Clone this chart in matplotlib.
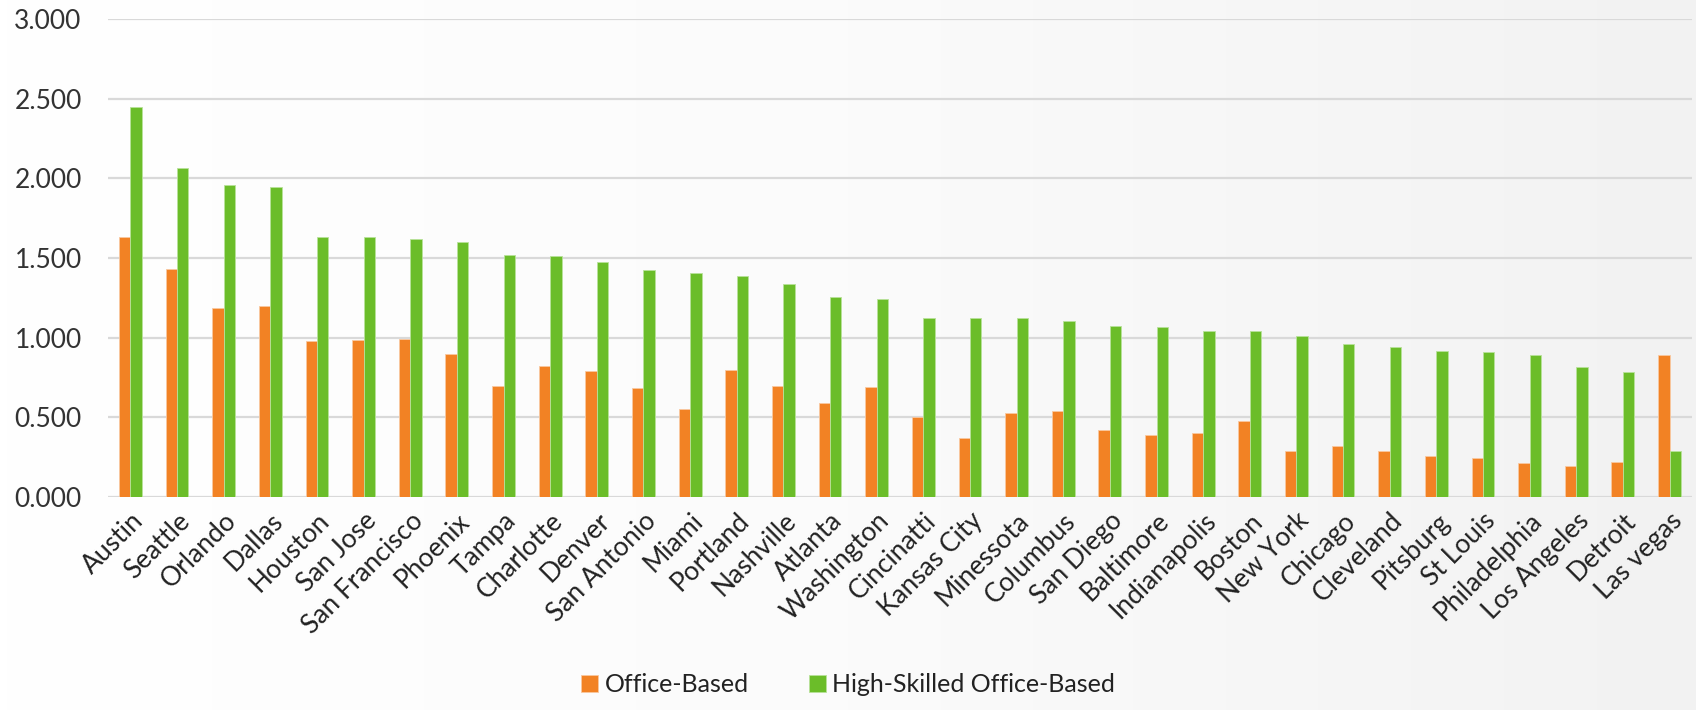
import numpy as np
import matplotlib
matplotlib.use("Agg")
import matplotlib.pyplot as plt
from matplotlib.ticker import FormatStrFormatter

# Donnees
cities = ["Austin", "Seattle", "Orlando", "Dallas", "Houston", "San Jose",
          "San Francisco", "Phoenix", "Tampa", "Charlotte", "Denver",
          "San Antonio", "Miami", "Portland", "Nashville", "Atlanta",
          "Washington", "Cincinatti", "Kansas City", "Minessota", "Columbus",
          "San Diego", "Baltimore", "Indianapolis", "Boston", "New York",
          "Chicago", "Cleveland", "Pitsburg", "St Louis", "Philadelphia",
          "Los Angeles", "Detroit", "Las vegas"]

office_based = [1.632, 1.431, 1.186, 1.199, 0.979, 0.986, 0.992, 0.898, 0.699,
                0.822, 0.790, 0.684, 0.552, 0.795, 0.697, 0.590, 0.690, 0.502,
                0.372, 0.527, 0.540, 0.423, 0.387, 0.400, 0.477, 0.287, 0.320,
                0.289, 0.257, 0.245, 0.213, 0.193, 0.220, 0.893]

high_skilled = [2.446, 2.063, 1.956, 1.944, 1.632, 1.632, 1.622, 1.603, 1.521,
                1.513, 1.473, 1.425, 1.408, 1.389, 1.339, 1.255, 1.241, 1.126,
                1.124, 1.122, 1.105, 1.071, 1.069, 1.042, 1.040, 1.011, 0.960,
                0.940, 0.915, 0.910, 0.891, 0.818, 0.783, 0.287]

ORANGE = "#F28224"
GREEN = "#6BBD29"

plt.rcParams["font.family"] = ["Lato", "DejaVu Sans"]

fig = plt.figure(figsize=(16.96, 7.10), dpi=100)

# fond degrade clair (blanc a gauche, gris tres clair a droite)
bg = fig.add_axes([0, 0, 1, 1], zorder=-10)
grad = np.linspace(0, 1, 256)[None, :]
bg.imshow(grad, aspect="auto", cmap=matplotlib.colors.LinearSegmentedColormap.from_list(
    "bg", ["#ffffff", "#fbfbfb", "#f2f2f2"]), extent=[0, 1, 0, 1])
bg.axis("off")

ax = fig.add_axes([0.0637, 0.300, 0.9339, 0.673])
ax.patch.set_alpha(0)

x = np.arange(len(cities))
w = 0.245
ax.bar(x - w/2, office_based, width=w, color=ORANGE, edgecolor="#f9c8a0",
       linewidth=0.6, label="Office-Based", zorder=3)
ax.bar(x + w/2, high_skilled, width=w, color=GREEN, edgecolor="#b8e29a",
       linewidth=0.6, label="High-Skilled Office-Based", zorder=3)

ax.set_xlim(-0.48, len(cities) - 0.52)
ax.set_ylim(0, 3.0)
ax.set_yticks(np.arange(0, 3.01, 0.5))
ax.yaxis.set_major_formatter(FormatStrFormatter("%.3f"))
ax.grid(axis="y", color="#d9d9d9", linewidth=1.6, zorder=0)
for s in ax.spines.values():
    s.set_visible(False)
ax.tick_params(axis="both", length=0)
ax.tick_params(axis="y", labelsize=19, colors="#333333", pad=19)

ax.set_xticks(x)
ax.set_xticklabels(cities, rotation=45, ha="right", rotation_mode="anchor",
                   fontsize=19, color="#222222")
ax.tick_params(axis="x", pad=8)

fig.legend(loc="lower center", bbox_to_anchor=(0.5, -0.012), ncol=2, frameon=False,
           fontsize=18, handlelength=0.7, handleheight=0.7, handletextpad=0.25,
           columnspacing=2.4, labelcolor="#222222")

fig.savefig("out.png", dpi=100)
